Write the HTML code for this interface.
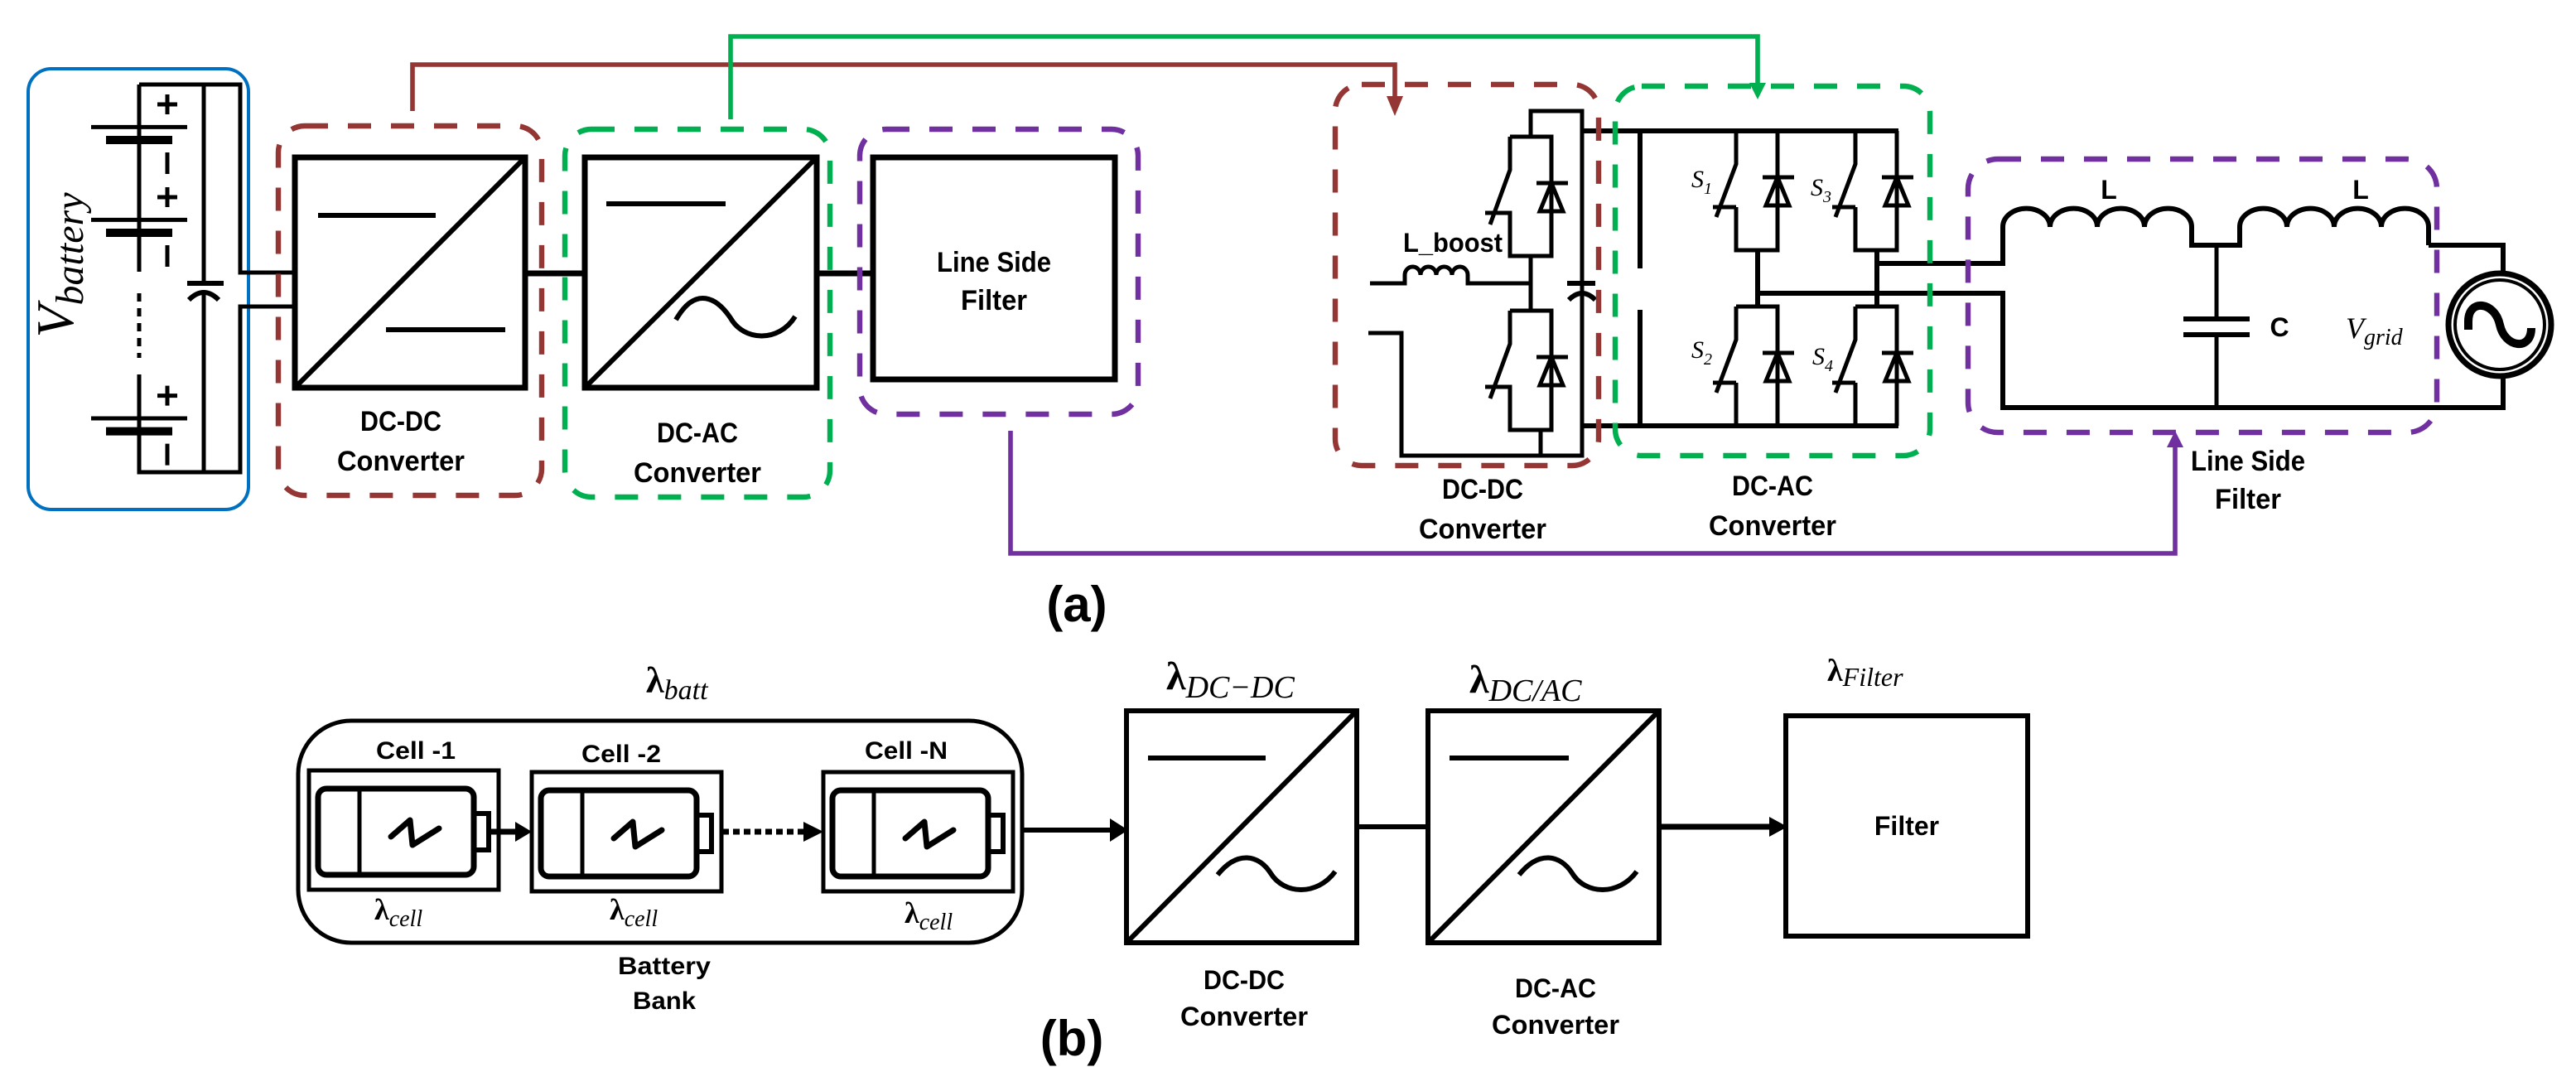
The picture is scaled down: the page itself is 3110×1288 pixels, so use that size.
<!DOCTYPE html>
<html><head><meta charset="utf-8"><style>
html,body{margin:0;padding:0;background:#fff;}
svg{display:block;}
.t{font-family:"Liberation Sans Narrow","Liberation Sans",sans-serif;font-weight:bold;fill:#000;text-anchor:middle;}
.m{font-family:"Liberation Serif",serif;fill:#000;}
</style></head><body>
<svg width="3110" height="1288" viewBox="0 0 1555 644" xmlns="http://www.w3.org/2000/svg">
<g fill="none" stroke="#000" stroke-width="2.5">
<rect x="17" y="41.5" width="133" height="266" rx="14" stroke="#0070c0" stroke-width="2"/>
<path d="M84,51 H145 V164.5 H178 M84,51 V164 M84,226 V285 H145 V185 H178 M123,51 V171 M123,178 V285"/>
<path d="M84,177 V216" stroke-dasharray="5,4"/>
<path d="M113,171 H135" stroke-width="3"/>
<path d="M114,181 Q123,172 132,181" stroke-width="3"/>
<g>
<path d="M55,76.7 H113" stroke-width="2.5"/>
<path d="M64,84.5 H104" stroke-width="5"/>
<path d="M95,63 H107 M101,57 V69 M101,92 V105" stroke-width="2.5"/>
</g>
<g transform="translate(0,56)">
<path d="M55,76.7 H113" stroke-width="2.5"/><path d="M64,84.5 H104" stroke-width="5"/>
<path d="M95,63 H107 M101,57 V69 M101,92 V105" stroke-width="2.5"/></g>
<g transform="translate(0,175.8)">
<path d="M55,76.7 H113" stroke-width="2.5"/><path d="M64,84.5 H104" stroke-width="5"/>
<path d="M95,63 H107 M101,57 V69 M101,92 V105" stroke-width="2.5"/></g>

<rect x="178" y="95" width="139" height="139" stroke-width="3.5"/>
<path d="M178,234 L317,95 M192,130 H263 M233,199 H305" stroke-width="3"/>
<rect x="353" y="95" width="140" height="139" stroke-width="3.5"/>
<path d="M353,234 L493,95 M366,123 H438" stroke-width="3"/>
<path d="M408,193 C420,172 433,180 441,192 C449,206 470,207 480,191" stroke-width="3"/>
<rect x="527" y="95" width="146" height="134" stroke-width="3.5"/>
<path d="M317,165 H353 M493,165 H527" stroke-width="3.5"/>
<rect x="168" y="76" width="159" height="223" rx="16" stroke="#943634" stroke-width="3.2" stroke-dasharray="14,12"/>
<rect x="341" y="78" width="160" height="222" rx="16" stroke="#00b050" stroke-width="3.2" stroke-dasharray="14,12"/>
<rect x="519" y="78" width="168" height="172" rx="16" stroke="#7030a0" stroke-width="3.2" stroke-dasharray="14,12"/>

<path d="M249,67 V39 H842 V60" stroke="#943634" stroke-width="2.8"/>
<path d="M441,72 V22 H1061 V52" stroke="#00b050" stroke-width="2.8"/>
<path d="M610,260 V334 H1313 V268" stroke="#7030a0" stroke-width="2.8"/>
</g>
<polygon points="837,58 847,58 842,70" fill="#943634"/>
<polygon points="1056,50 1066,50 1061,60" fill="#00b050"/>
<polygon points="1308,270 1318,270 1313,260" fill="#7030a0"/>

<g fill="none" stroke="#000" stroke-width="2.5">
<path d="M924,82 V67 H955 V275 H846 V201 H826"/>
<path d="M924,155 V187 M930,260 V275"/>
<path d="M827,171 H848 V166 a4.75,5 0 0 1 9.5,0 a4.75,5 0 0 1 9.5,0 a4.75,5 0 0 1 9.5,0 a4.75,5 0 0 1 9.5,0 V171 H924"/>
<path d="M946,171 H963" stroke-width="3"/>
<path d="M947,181 Q955,173 963,181" stroke-width="3"/>
<g transform="translate(911.5,82.5)"><path d="M0,0 H25 V72 H0 V46 H-15 M0,0 V20 L-12,53 M25,28 V72"/><path d="M16,28 H35 M25,28 L18,45 H32 Z"/></g>
<g transform="translate(911.5,187.5)"><path d="M0,0 H25 V72 H0 V46 H-15 M0,0 V20 L-12,53"/><path d="M16,28 H35 M25,28 L18,45 H32 Z"/></g>
<g transform="translate(1048,79)"><path d="M0,0 V20 L-12,52 M0,46 H-14 M0,46 V72 H25 V0"/><path d="M16,28 H35 M25,28 L18,45 H32 Z"/></g>
<g transform="translate(1048,185)"><path d="M0,0 H25 V72 M0,0 V20 L-12,52 M0,46 H-14 M0,46 V72"/><path d="M16,28 H35 M25,28 L18,45 H32 Z"/></g>
<g transform="translate(1120,79)"><path d="M0,0 V20 L-12,52 M0,46 H-14 M0,46 V72 H25 V0"/><path d="M16,28 H35 M25,28 L18,45 H32 Z"/></g>
<g transform="translate(1120,185)"><path d="M0,0 H25 V72 M0,0 V20 L-12,52 M0,46 H-14 M0,46 V72"/><path d="M16,28 H35 M25,28 L18,45 H32 Z"/></g>
<path d="M955,79 H1146 M955,257 H1146 M990,79 V162 M990,187 V257" stroke-width="3"/>
<path d="M1061,151 V185 M1133,151 V185 M1133,159 H1209 V137 M1061,177 H1209 V246 H1511 V228 M1511,164 V148 H1466" stroke-width="3"/>
<path d="M1209,137 a14,11 0 0 1 28.5,0 a14,11 0 0 1 28.5,0 a14,11 0 0 1 28.5,0 a14,11 0 0 1 28.5,0 V148 H1352 V137 a14,11 0 0 1 28.5,0 a14,11 0 0 1 28.5,0 a14,11 0 0 1 28.5,0 a14,11 0 0 1 28.5,0 V148" stroke-width="3"/>
<path d="M1338,148 V192 M1338,202 V246" stroke-width="2.5"/>
<path d="M1318,192.5 H1358 M1318,202 H1358" stroke-width="3"/>
<circle cx="1509" cy="196" r="31" stroke-width="3.5"/>
<circle cx="1509" cy="196" r="27" stroke-width="2"/>
<path d="M1490,199 V194 C1490,180 1506,182 1509,196 C1512,210 1528,212 1528,198" stroke-width="5"/>
<rect x="806" y="51" width="159" height="230" rx="16" stroke="#943634" stroke-width="3.2" stroke-dasharray="14,12"/>
<rect x="975" y="52" width="190" height="223" rx="16" stroke="#00b050" stroke-width="3.2" stroke-dasharray="14,12"/>
<rect x="1188" y="96" width="283" height="165" rx="18" stroke="#7030a0" stroke-width="3.2" stroke-dasharray="14,12"/>
</g>

<text class="m" transform="translate(44,160) rotate(-90)" text-anchor="middle" font-size="32" font-style="italic">V<tspan font-size="24" dy="6">battery</tspan></text>
<text class="t" font-size="17" x="600" y="164" textLength="69" lengthAdjust="spacingAndGlyphs">Line Side</text>
<text class="t" font-size="17" x="600" y="187" textLength="40" lengthAdjust="spacingAndGlyphs">Filter</text>
<text class="t" font-size="17" x="242" y="260" textLength="49" lengthAdjust="spacingAndGlyphs">DC-DC</text>
<text class="t" font-size="17" x="242" y="284" textLength="77" lengthAdjust="spacingAndGlyphs">Converter</text>
<text class="t" font-size="17" x="421" y="267" textLength="49" lengthAdjust="spacingAndGlyphs">DC-AC</text>
<text class="t" font-size="17" x="421" y="291" textLength="77" lengthAdjust="spacingAndGlyphs">Converter</text>
<text class="t" font-size="17" x="895" y="301" textLength="49" lengthAdjust="spacingAndGlyphs">DC-DC</text>
<text class="t" font-size="17" x="895" y="325" textLength="77" lengthAdjust="spacingAndGlyphs">Converter</text>
<text class="t" font-size="17" x="1070" y="299" textLength="49" lengthAdjust="spacingAndGlyphs">DC-AC</text>
<text class="t" font-size="17" x="1070" y="323" textLength="77" lengthAdjust="spacingAndGlyphs">Converter</text>
<text class="t" font-size="17" x="1357" y="284" textLength="69" lengthAdjust="spacingAndGlyphs">Line Side</text>
<text class="t" font-size="17" x="1357" y="307" textLength="40" lengthAdjust="spacingAndGlyphs">Filter</text>
<text class="t" font-size="16" x="877" y="152" textLength="60" lengthAdjust="spacingAndGlyphs">L_boost</text>
<text class="t" font-size="16" x="1273" y="120">L</text>
<text class="t" font-size="16" x="1425" y="120">L</text>
<text class="t" font-size="16" x="1376" y="203">C</text>
<text class="m" font-size="18" font-style="italic" x="1416" y="204">V<tspan font-size="14" dy="4">grid</tspan></text>
<text class="m" font-size="15" font-style="italic" x="1021" y="113">S<tspan font-size="10" dy="4">1</tspan></text>
<text class="m" font-size="15" font-style="italic" x="1093" y="118">S<tspan font-size="10" dy="4">3</tspan></text>
<text class="m" font-size="15" font-style="italic" x="1021" y="216">S<tspan font-size="10" dy="4">2</tspan></text>
<text class="m" font-size="15" font-style="italic" x="1094" y="220">S<tspan font-size="10" dy="4">4</tspan></text>
<text class="t" font-size="30" font-weight="normal" x="650" y="375" style="font-family:'Liberation Sans',sans-serif">(a)</text>

<g fill="none" stroke="#000" stroke-width="2.5">
<rect x="180" y="435" width="437" height="134" rx="32"/>
<g>
<rect x="186.5" y="465" width="114.5" height="72"/>
<rect x="192" y="476" width="94" height="52" rx="5" stroke-width="3.5"/>
<path d="M217,476 V528" stroke-width="2.5"/>
<rect x="286" y="491" width="9" height="22" stroke-width="3"/>
<path d="M236,505 L247.5,495 L249,510 L265,500" stroke-width="3.5" stroke-linecap="round" stroke-linejoin="round"/>
</g>
<g transform="translate(134.5,1)"><rect x="186.5" y="465" width="114.5" height="72"/>
<rect x="192" y="476" width="94" height="52" rx="5" stroke-width="3.5"/>
<path d="M217,476 V528" stroke-width="2.5"/><rect x="286" y="491" width="9" height="22" stroke-width="3"/>
<path d="M236,505 L247.5,495 L249,510 L265,500" stroke-width="3.5" stroke-linecap="round" stroke-linejoin="round"/></g>
<g transform="translate(310.5,1)"><rect x="186.5" y="465" width="114.5" height="72"/>
<rect x="192" y="476" width="94" height="52" rx="5" stroke-width="3.5"/>
<path d="M217,476 V528" stroke-width="2.5"/><rect x="286" y="491" width="9" height="22" stroke-width="3"/>
<path d="M236,505 L247.5,495 L249,510 L265,500" stroke-width="3.5" stroke-linecap="round" stroke-linejoin="round"/></g>
<path d="M295,502 H312" stroke-width="3.5"/>
<path d="M436,502 H487" stroke-width="3.5" stroke-dasharray="4,2.5"/>
<path d="M617,501 H672" stroke-width="3"/>
<rect x="680" y="429" width="139" height="140" stroke-width="3"/>
<path d="M680,569 L819,429 M693,457.5 H764" stroke-width="3"/>
<path d="M735,528 C747,513 760,516 767,527 C775,540 795,541 806,526" stroke-width="3"/>
<path d="M819,499 H862" stroke-width="3"/>
<rect x="862" y="429" width="139.5" height="140" stroke-width="3"/>
<path d="M862,569 L1001.5,429 M875,457.5 H947" stroke-width="3"/>
<path d="M917,528 C929,513 942,516 949,527 C957,540 977,541 988,526" stroke-width="3"/>
<path d="M1001.5,499 H1070" stroke-width="3.5"/>
<rect x="1078" y="432" width="146" height="133" stroke-width="3"/>
</g>
<polygon points="311,496 321,502 311,508" fill="#000"/>
<polygon points="485,496 497,502 485,508" fill="#000"/>
<polygon points="670,494 681,501 670,508" fill="#000"/>
<polygon points="1068,493 1079,499 1068,505" fill="#000"/>

<text class="m" font-size="22" font-weight="bold" x="390" y="418">λ<tspan font-style="italic" font-weight="normal" font-size="17" dy="4">batt</tspan></text>
<text class="t" font-size="15" x="251" y="458" textLength="48" lengthAdjust="spacingAndGlyphs">Cell -1</text>
<text class="t" font-size="15" x="375" y="460" textLength="48" lengthAdjust="spacingAndGlyphs">Cell -2</text>
<text class="t" font-size="15" x="547" y="458" textLength="50" lengthAdjust="spacingAndGlyphs">Cell -N</text>
<text class="m" font-size="18" font-weight="bold" x="226" y="555">λ<tspan font-style="italic" font-weight="normal" font-size="14" dy="4">cell</tspan></text>
<text class="m" font-size="18" font-weight="bold" x="368" y="555">λ<tspan font-style="italic" font-weight="normal" font-size="14" dy="4">cell</tspan></text>
<text class="m" font-size="18" font-weight="bold" x="546" y="557">λ<tspan font-style="italic" font-weight="normal" font-size="14" dy="4">cell</tspan></text>
<text class="t" font-size="15" x="401" y="588" textLength="56" lengthAdjust="spacingAndGlyphs">Battery</text>
<text class="t" font-size="15" x="401" y="609" textLength="38" lengthAdjust="spacingAndGlyphs">Bank</text>
<text class="m" font-size="24" font-weight="bold" x="704" y="416">λ<tspan font-style="italic" font-weight="normal" font-size="19" dy="5">DC−DC</tspan></text>
<text class="m" font-size="24" font-weight="bold" x="887" y="418">λ<tspan font-style="italic" font-weight="normal" font-size="19" dy="5">DC/AC</tspan></text>
<text class="m" font-size="19" font-weight="bold" x="1103" y="411">λ<tspan font-style="italic" font-weight="normal" font-size="16" dy="3">Filter</tspan></text>
<text class="t" font-size="16" x="1151" y="504" style="font-family:'Liberation Sans',sans-serif">Filter</text>
<text class="t" font-size="16" x="751" y="597" textLength="49" lengthAdjust="spacingAndGlyphs">DC-DC</text>
<text class="t" font-size="16" x="751" y="619" textLength="77" lengthAdjust="spacingAndGlyphs">Converter</text>
<text class="t" font-size="16" x="939" y="602" textLength="49" lengthAdjust="spacingAndGlyphs">DC-AC</text>
<text class="t" font-size="16" x="939" y="624" textLength="77" lengthAdjust="spacingAndGlyphs">Converter</text>
<text class="t" font-size="30" font-weight="normal" x="647" y="637" style="font-family:'Liberation Sans',sans-serif">(b)</text>
</svg>
</body></html>
